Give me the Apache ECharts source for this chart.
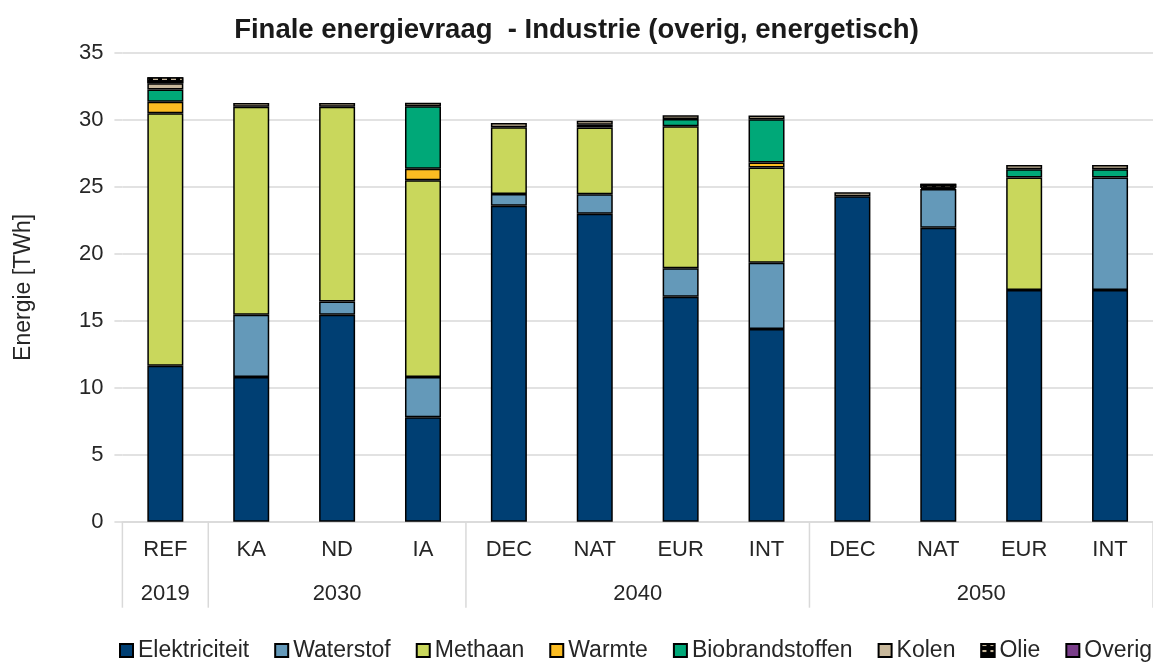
<!DOCTYPE html>
<html>
<head>
<meta charset="utf-8">
<script src="https://cdn.jsdelivr.net/npm/echarts@6/dist/echarts.min.js"></script>
<style>
  html, body { margin: 0; padding: 0; background: #fff; }
  #chart { width: 1153px; height: 662px; }
</style>
</head>
<body>
<div id="chart"></div>
<script>
// Scenario categories along the x axis, grouped per year
const scenarios = ['REF', 'KA', 'ND', 'IA', 'DEC', 'NAT', 'EUR', 'INT', 'DEC', 'NAT', 'EUR', 'INT'];
const yearGroups = ['2019', '2030', '2040', '2050'];
const yearGroupSizes = [1, 3, 4, 4];

// Final energy demand per carrier [TWh]
const elektriciteit   = [11.65, 10.8, 15.45, 7.8, 23.6, 23.0, 16.8, 14.4, 24.3, 21.95, 17.3, 17.3];
const waterstof       = [0, 4.65, 1.0, 3.0, 0.87, 1.45, 2.13, 4.95, 0, 2.9, 0, 8.4];
const methaan         = [18.85, 15.55, 14.55, 14.7, 5.0, 5.0, 10.6, 7.1, 0, 0, 8.4, 0];
const warmte          = [0.87, 0, 0, 0.87, 0, 0.2, 0, 0.37, 0, 0, 0, 0];
const biobrandstoffen = [0.92, 0, 0, 4.66, 0, 0, 0.54, 3.23, 0, 0, 0.63, 0.63];
const kolen           = [0.45, 0.27, 0.27, 0.27, 0.3, 0.3, 0.28, 0.28, 0.3, 0.1, 0.32, 0.32];
const olie            = [0.45, 0, 0, 0, 0, 0, 0, 0, 0, 0.3, 0, 0];
const overig          = [0, 0, 0, 0, 0, 0, 0, 0, 0, 0, 0, 0];

// Y axis ticks
const yTicks = [0, 5, 10, 15, 20, 25, 30, 35];

const FONT = 'Liberation Sans, Arial, sans-serif';
const TEXT = '#262626';
const GRID = '#d9d9d9';

const carriers = [
  { name: 'Elektriciteit', data: elektriciteit, color: '#003f73' },
  { name: 'Waterstof', data: waterstof, color: '#6499b9' },
  { name: 'Methaan', data: methaan, color: '#c9d75c' },
  { name: 'Warmte', data: warmte, color: '#fbbc22' },
  { name: 'Biobrandstoffen', data: biobrandstoffen, color: '#00a878' },
  { name: 'Kolen', data: kolen, color: '#c8b89b' },
  { name: 'Olie', data: olie, color: '#000000',
    decal: { symbol: 'rect', color: '#c8b89b', dashArrayX: [5, 4], dashArrayY: [2, 4], symbolSize: 1, rotation: 0 } },
  { name: 'Overig', data: overig, color: '#7a3e8a' }
];

const chart = echarts.init(document.getElementById('chart'), null, { renderer: 'canvas' });

const series = carriers.map(c => ({
  name: c.name,
  type: 'bar',
  stack: 'total',
  barWidth: 36,
  data: c.data.map(v => (v === 0 ? null : v)),
  itemStyle: {
    color: c.color,
    borderColor: '#000',
    borderWidth: 1.5,
    decal: c.decal
  },
  emphasis: { disabled: true }
}));

chart.setOption({
  animation: false,
  backgroundColor: '#fff',
  aria: { enabled: false, decal: { show: true } },
  title: {
    text: 'Finale energievraag  - Industrie (overig, energetisch)',
    left: 'center',
    top: 11,
    textStyle: { fontFamily: FONT, fontSize: 27.5, fontWeight: 'bold', color: '#1a1a1a' }
  },
  grid: { left: 122.4, right: -8.6, top: 53.1, bottom: 140.3, containLabel: false },
  legend: {
    left: 114,
    top: 634,
    width: 1400,
    itemWidth: 13,
    itemHeight: 13,
    itemGap: 25,
    icon: 'rect',
    textStyle: { fontFamily: FONT, fontSize: 23, color: TEXT },
    data: carriers.map(c => c.name)
  },
  xAxis: {
    type: 'category',
    data: scenarios,
    axisLine: { show: true, lineStyle: { color: GRID, width: 1.5 } },
    axisTick: { show: false },
    axisLabel: { fontFamily: FONT, fontSize: 22, color: TEXT, margin: 17, interval: 0 }
  },
  yAxis: {
    type: 'value',
    min: yTicks[0],
    max: yTicks[yTicks.length - 1],
    interval: yTicks[1] - yTicks[0],
    name: 'Energie [TWh]',
    nameLocation: 'middle',
    nameRotate: 90,
    nameGap: 87,
    nameTextStyle: { fontFamily: FONT, fontSize: 23, color: TEXT },
    axisLine: { show: false },
    axisTick: { show: true, length: 8, lineStyle: { color: GRID, width: 1.5 } },
    axisLabel: { fontFamily: FONT, fontSize: 22, color: TEXT, margin: 19 },
    splitLine: { lineStyle: { color: GRID, width: 1.5 } }
  },
  series: series
});

// Second category level: year labels and group separators, placed through the x axis scale
function drawYearLevel() {
  const p0 = chart.convertToPixel({ xAxisIndex: 0 }, 0);
  const p1 = chart.convertToPixel({ xAxisIndex: 0 }, 1);
  const band = p1 - p0;
  const axisY = chart.convertToPixel({ yAxisIndex: 0 }, 0);
  const elements = [];
  let start = 0;
  yearGroups.forEach((label, g) => {
    const n = yearGroupSizes[g];
    const first = chart.convertToPixel({ xAxisIndex: 0 }, start);
    const last = chart.convertToPixel({ xAxisIndex: 0 }, start + n - 1);
    const leftEdge = first - band / 2;
    elements.push({
      type: 'line',
      shape: { x1: leftEdge, y1: axisY, x2: leftEdge, y2: axisY + 86 },
      style: { stroke: GRID, lineWidth: 1.5 },
      silent: true
    });
    elements.push({
      type: 'text',
      x: (first + last) / 2,
      y: axisY + 72,
      style: {
        text: label, fill: TEXT, font: '22px ' + FONT,
        textAlign: 'center', textVerticalAlign: 'middle'
      },
      silent: true
    });
    start += n;
  });
  const endEdge = chart.convertToPixel({ xAxisIndex: 0 }, scenarios.length - 1) + band / 2;
  elements.push({
    type: 'line',
    shape: { x1: endEdge, y1: axisY, x2: endEdge, y2: axisY + 86 },
    style: { stroke: GRID, lineWidth: 1.5 },
    silent: true
  });
  chart.setOption({ graphic: { elements: elements } });
}
drawYearLevel();
</script>
</body>
</html>
